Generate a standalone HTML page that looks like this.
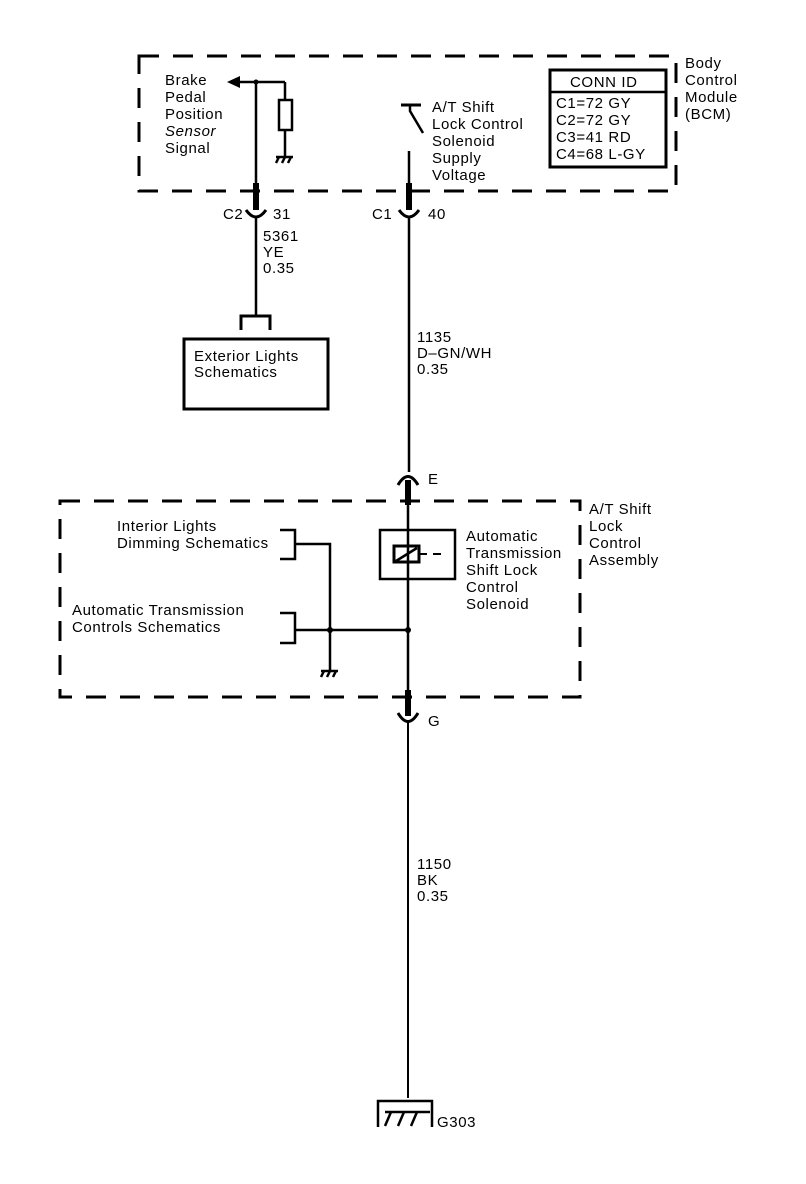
<!DOCTYPE html>
<html><head><meta charset="utf-8"><style>
html,body{margin:0;padding:0;background:#fff;}
svg{display:block;}
text{font-family:"Liberation Sans",Arial,sans-serif;font-size:15px;letter-spacing:0.6px;fill:#000;}
</style></head><body>
<svg width="806" height="1184" viewBox="0 0 806 1184" xmlns="http://www.w3.org/2000/svg">
<g fill="none" stroke="#000">
<rect x="139" y="56" width="537" height="135" stroke-width="3" stroke-dasharray="20,14"/>
<rect x="60" y="501" width="520" height="196" stroke-width="3" stroke-dasharray="20,14"/>

<line x1="256" y1="82" x2="256" y2="207" stroke-width="2.5"/>
<line x1="256" y1="183" x2="256" y2="210" stroke-width="6"/>
<path d="M246 210 Q256 224 266 210" stroke-width="3"/>
<line x1="256" y1="218" x2="256" y2="315" stroke-width="2.5"/>
<path d="M241 330 V316 H270 V330" stroke-width="3"/>
<line x1="238" y1="82" x2="285" y2="82" stroke-width="2.5"/>
<line x1="285" y1="82" x2="285" y2="100" stroke-width="2.5"/>
<rect x="279" y="100" width="13" height="30" stroke-width="2.5"/>
<line x1="285" y1="130" x2="285" y2="157" stroke-width="2.5"/>
<rect x="184" y="339" width="144" height="70" stroke-width="3"/>

<line x1="401" y1="105" x2="421" y2="105" stroke-width="3"/>
<path d="M410 105 V111 L423 133" stroke-width="2.5"/>
<line x1="409" y1="151" x2="409" y2="207" stroke-width="2.5"/>
<line x1="409" y1="183" x2="409" y2="210" stroke-width="6"/>
<path d="M399 210 Q409 224 419 210" stroke-width="3"/>
<line x1="409" y1="218" x2="409" y2="472" stroke-width="2.5"/>
<path d="M398 485 Q408 468 418 485" stroke-width="3"/>
<line x1="408" y1="480" x2="408" y2="505" stroke-width="6"/>
<line x1="408" y1="505" x2="408" y2="690" stroke-width="2.5"/>
<line x1="408" y1="690" x2="408" y2="716" stroke-width="6"/>
<path d="M398 713 Q408 730 418 713" stroke-width="3"/>
<line x1="408" y1="722" x2="408" y2="1098" stroke-width="2"/>

<rect x="380" y="530" width="75" height="49" stroke-width="2.5"/>
<rect x="394" y="546" width="25" height="16" stroke-width="3"/>
<line x1="396" y1="561" x2="417" y2="548" stroke-width="2.5"/>
<line x1="419" y1="554" x2="427" y2="554" stroke-width="2"/>
<line x1="433" y1="554" x2="441" y2="554" stroke-width="2"/>

<path d="M280 530 H295 V559 H280" stroke-width="2.5"/>
<path d="M295 544 H330 V670" stroke-width="2.5"/>
<path d="M280 613 H295 V643 H280" stroke-width="2.5"/>
<line x1="295" y1="630" x2="408" y2="630" stroke-width="2.5"/>

<path d="M378 1127 V1101 H432 V1127" stroke-width="2.5"/>
<line x1="385" y1="1112" x2="430" y2="1112" stroke-width="2.5"/>
<path d="M391 1112 L385 1126 M404 1112 L398 1126 M417 1112 L411 1126" stroke-width="2.5"/>

<rect x="550" y="70" width="116" height="97" stroke-width="3"/>
<line x1="550" y1="92" x2="666" y2="92" stroke-width="2.5"/>
</g>
<g fill="#000" stroke="none">
<polygon points="227,82 240,76 240,88"/>
<circle cx="256" cy="82" r="2.5"/>
<circle cx="330" cy="630" r="3"/>
<circle cx="408" cy="630" r="3"/>
</g>
<g stroke="#000" stroke-width="2.5" fill="none">
<line x1="276" y1="157" x2="293" y2="157"/>
<path d="M279 157 l-3 6 M285 157 l-3 6 M291 157 l-3 6"/>
<line x1="321" y1="671" x2="338" y2="671"/>
<path d="M324 671 l-3 6 M330 671 l-3 6 M336 671 l-3 6"/>
</g>

<text x="165" y="85">Brake</text>
<text x="165" y="102">Pedal</text>
<text x="165" y="119">Position</text>
<text x="165" y="136" font-style="italic">Sensor</text>
<text x="165" y="153">Signal</text>

<text x="432" y="112">A/T Shift</text>
<text x="432" y="129">Lock Control</text>
<text x="432" y="146">Solenoid</text>
<text x="432" y="163">Supply</text>
<text x="432" y="180">Voltage</text>

<text x="570" y="87">CONN ID</text>
<text x="556" y="108">C1=72 GY</text>
<text x="556" y="125">C2=72 GY</text>
<text x="556" y="142">C3=41 RD</text>
<text x="556" y="159" letter-spacing="0.2">C4=68 L-GY</text>

<text x="685" y="68">Body</text>
<text x="685" y="85">Control</text>
<text x="685" y="102">Module</text>
<text x="685" y="119">(BCM)</text>

<text x="223" y="219">C2</text>
<text x="273" y="219">31</text>
<text x="263" y="241">5361</text>
<text x="263" y="257">YE</text>
<text x="263" y="273">0.35</text>
<text x="372" y="219">C1</text>
<text x="428" y="219">40</text>

<text x="194" y="361">Exterior Lights</text>
<text x="194" y="377">Schematics</text>

<text x="417" y="342">1135</text>
<text x="417" y="358">D–GN/WH</text>
<text x="417" y="374">0.35</text>

<text x="428" y="484">E</text>
<text x="589" y="514">A/T Shift</text>
<text x="589" y="531">Lock</text>
<text x="589" y="548">Control</text>
<text x="589" y="565">Assembly</text>

<text x="466" y="541">Automatic</text>
<text x="466" y="558">Transmission</text>
<text x="466" y="575">Shift Lock</text>
<text x="466" y="592">Control</text>
<text x="466" y="609">Solenoid</text>

<text x="117" y="531">Interior Lights</text>
<text x="117" y="548">Dimming Schematics</text>
<text x="72" y="615">Automatic Transmission</text>
<text x="72" y="632">Controls Schematics</text>

<text x="428" y="726">G</text>
<text x="417" y="869">1150</text>
<text x="417" y="885">BK</text>
<text x="417" y="901">0.35</text>
<text x="437" y="1127">G303</text>
</svg>
</body></html>
